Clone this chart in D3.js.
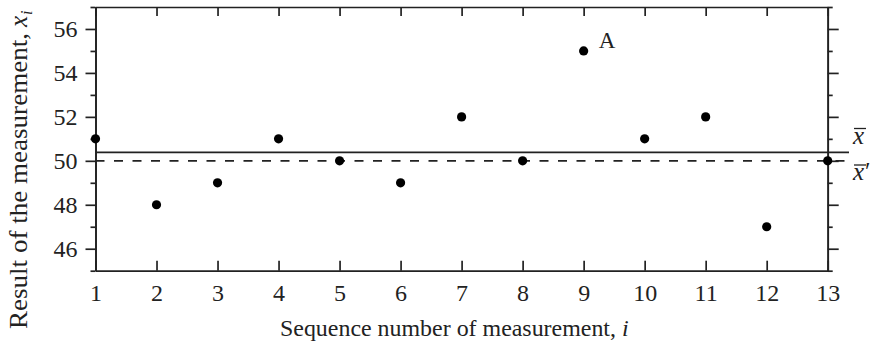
<!DOCTYPE html>
<html>
<head>
<meta charset="utf-8">
<script src="https://cdn.jsdelivr.net/npm/d3@7"></script>
<style>
  html, body { margin: 0; padding: 0; background: #fff; }
  svg { display: block; }
  text { font-family: "Liberation Serif", "DejaVu Serif", serif; fill: #222; }
</style>
</head>
<body>
<svg id="chart" width="874" height="347"></svg>
<script>
// ---- data ----
const sequence = [1, 2, 3, 4, 5, 6, 7, 8, 9, 10, 11, 12, 13];
const results  = [51, 48, 49, 51, 50, 49, 52, 50, 55, 51, 52, 47, 50];
const outlierIndex = 9;           // point "A"
const outlierLabel = "A";
const yMajorTicks = [46, 48, 50, 52, 54, 56];
const yMinorTicks = [45, 47, 49, 51, 53, 55, 57];
const xTicks = sequence;
const meanAll = d3.mean(results);                                                    // x̄
const meanTrimmed = d3.mean(results.filter((v, i) => sequence[i] !== outlierIndex)); // x̄'

// ---- layout ----
const L = 95.5, R = 827.7, T = 7, B = 270.7;
const ink = "#222";
const tickFont = "24px";

const svg = d3.select("#chart");
const x = d3.scaleLinear().domain([1, 13]).range([L, R]);
const y = d3.scaleLinear().domain([45, 57]).range([B, T]);

function styleAxis(g) {
  g.select(".domain").attr("stroke", ink).attr("stroke-width", 1.7);
  g.selectAll(".tick line").attr("stroke", ink).attr("stroke-width", 1.7);
  g.selectAll(".tick text").attr("fill", ink)
    .style("font-family", '"Liberation Serif", serif').style("font-size", tickFont);
}

// left axis (major with labels, minor without)
svg.append("g").attr("transform", `translate(${L},0)`)
  .call(d3.axisLeft(y).tickValues(yMajorTicks).tickSize(10).tickPadding(8).tickSizeOuter(0))
  .call(styleAxis);
svg.append("g").attr("transform", `translate(${L},0)`)
  .call(d3.axisLeft(y).tickValues(yMinorTicks).tickSize(5).tickFormat("").tickSizeOuter(0))
  .call(styleAxis);

// right axis
svg.append("g").attr("transform", `translate(${R},0)`)
  .call(d3.axisRight(y).tickValues(yMajorTicks).tickSize(11).tickFormat("").tickSizeOuter(0))
  .call(styleAxis);
svg.append("g").attr("transform", `translate(${R},0)`)
  .call(d3.axisRight(y).tickValues(yMinorTicks).tickSize(5).tickFormat("").tickSizeOuter(0))
  .call(styleAxis);

// bottom axis: inward ticks
svg.append("g").attr("transform", `translate(0,${B})`)
  .call(d3.axisBottom(x).tickValues(xTicks).tickSize(-10).tickPadding(13).tickSizeOuter(0).tickFormat(d3.format("d")))
  .call(styleAxis);

// top axis: inward ticks
svg.append("g").attr("transform", `translate(0,${T})`)
  .call(d3.axisTop(x).tickValues(xTicks).tickSize(-9).tickFormat("").tickSizeOuter(0))
  .call(styleAxis);

// mean lines
const lineEnd = 849;
svg.append("line")
  .attr("x1", L).attr("x2", lineEnd)
  .attr("y1", y(meanAll)).attr("y2", y(meanAll))
  .attr("stroke", ink).attr("stroke-width", 1.7);
svg.append("line")
  .attr("x1", L).attr("x2", lineEnd)
  .attr("y1", y(meanTrimmed)).attr("y2", y(meanTrimmed))
  .attr("stroke", ink).attr("stroke-width", 1.7)
  .attr("stroke-dasharray", "9,9.5");

// points
svg.append("g").selectAll("circle")
  .data(sequence.map((s, i) => ({ s, v: results[i] })))
  .join("circle")
  .attr("cx", d => x(d.s)).attr("cy", d => y(d.v))
  .attr("r", 4.6).attr("fill", "#000");

// label A
svg.append("text")
  .attr("x", x(outlierIndex) + 15).attr("y", y(results[outlierIndex - 1]) - 3)
  .style("font-size", "23px").text(outlierLabel);

// x̄ and x̄' labels
function barLabel(yBase, prime) {
  const t = svg.append("text").attr("x", 853).attr("y", yBase).style("font-size", "25px");
  t.append("tspan").style("font-style", "italic").text("x");
  if (prime) t.append("tspan").attr("dx", 1).text("\u2032");
  svg.append("line")
    .attr("x1", 854).attr("x2", 866)
    .attr("y1", yBase - 15).attr("y2", yBase - 15)
    .attr("stroke", ink).attr("stroke-width", 1.3);
}
barLabel(143.5, false);
barLabel(180, true);

// axis titles
svg.append("text")
  .attr("x", 280).attr("y", 336)
  .style("font-size", "24px")
  .call(t => {
    t.append("tspan").attr("textLength", 336).attr("lengthAdjust", "spacingAndGlyphs")
      .text("Sequence number of measurement,");
    t.append("tspan").attr("dx", 6).style("font-style", "italic").text("i");
  });

svg.append("text")
  .attr("transform", `translate(27,329) rotate(-90)`)
  .style("font-size", "25px")
  .call(t => {
    t.append("tspan").attr("textLength", 296).attr("lengthAdjust", "spacingAndGlyphs")
      .text("Result of the measurement,");
    t.append("tspan").attr("dx", 6).style("font-style", "italic").text("x");
    t.append("tspan").style("font-style", "italic").style("font-size", "16px").attr("dx", 1).attr("dy", 5).text("i");
  });
</script>
</body>
</html>
